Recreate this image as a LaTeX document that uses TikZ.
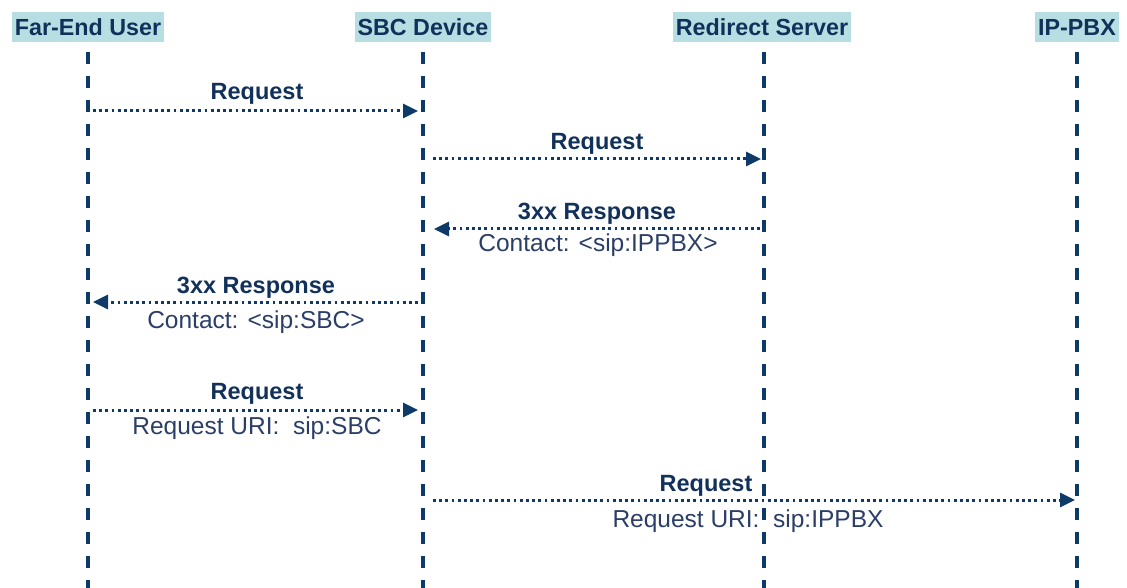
\documentclass[tikz,border=0pt]{standalone}
\usepackage{fontspec}
\setmainfont{Liberation Sans}
\usetikzlibrary{arrows.meta}
\definecolor{hdrfill}{HTML}{B7DFE3}
\definecolor{navy}{HTML}{12315A}
\definecolor{lineblue}{HTML}{0E3A68}
\definecolor{lbltext}{HTML}{2A3E66}
\tikzset{
  hdr/.style={fill=hdrfill, text=navy, font=\fontsize{23.3}{25}\selectfont\bfseries, inner xsep=3pt, inner ysep=3pt, minimum height=30pt},
  life/.style={draw=lineblue, line width=3.3pt, dash pattern=on 12pt off 12pt},
  msg/.style={draw=lineblue, line width=3pt, dash pattern=on 2.8pt off 3.4pt, -{Triangle[length=15pt,width=14pt]}},
  toplbl/.style={text=navy, font=\fontsize{23.5}{25}\selectfont\bfseries, inner sep=0pt},
  botlbl/.style={text=lbltext, font=\fontsize{24.5}{26}\selectfont, inner sep=0pt},
}
\begin{document}
\begin{tikzpicture}[x=1pt,y=-1pt]
\useasboundingbox (0,0) rectangle (1127,588);
% headers
\node[hdr] (hF) at (88,27) {Far-End User};
\node[hdr] (hS) at (423,27) {SBC Device};
\node[hdr] (hR) at (762,27) {Redirect Server};
\node[hdr] (hP) at (1077,27) {IP-PBX};
% lifeline ends
\coordinate (tF) at (88,52); \coordinate (bF) at (88,592);
\coordinate (tS) at (423,52); \coordinate (bS) at (423,592);
\coordinate (tR) at (764,52); \coordinate (bR) at (764,592);
\coordinate (tP) at (1077,52); \coordinate (bP) at (1077,592);
\draw[life] (tF) -- (bF);
\draw[life] (tS) -- (bS);
\draw[life] (tR) -- (bR);
\draw[life] (tP) -- (bP);
% message end points
\coordinate (m1a) at (93,111);  \coordinate (m1b) at (418,111);
\coordinate (m2a) at (433,159); \coordinate (m2b) at (761,159);
\coordinate (m3a) at (760,229); \coordinate (m3b) at (434,229);
\coordinate (m4a) at (418,302); \coordinate (m4b) at (93,302);
\coordinate (m5a) at (93,410);  \coordinate (m5b) at (418,410);
\coordinate (m6a) at (433,500); \coordinate (m6b) at (1075,500);
\draw[msg] (m1a) -- (m1b);
\draw[msg] (m2a) -- (m2b);
\draw[msg] (m3a) -- (m3b);
\draw[msg] (m4a) -- (m4b);
\draw[msg] (m5a) -- (m5b);
\draw[msg] (m6a) -- (m6b);
% labels
\node[toplbl] (l1) at (257,94) {Request};
\node[toplbl] (l2) at (597,144) {Request};
\node[toplbl] (l3) at (597,214) {3xx Response};
\node[botlbl] (l3b) at (598,245) {Contact: <sip:IPPBX>};
\node[toplbl] (l4) at (256,288) {3xx Response};
\node[botlbl] (l4b) at (256,322) {Contact: <sip:SBC>};
\node[toplbl] (l5) at (257,394) {Request};
\node[botlbl] (l5b) at (257,428) {Request URI:\ \ sip:SBC};
\node[toplbl] (l6) at (706,486) {Request};
\node[botlbl] (l6b) at (748,521) {Request URI:\ \ sip:IPPBX};
\end{tikzpicture}
\end{document}
